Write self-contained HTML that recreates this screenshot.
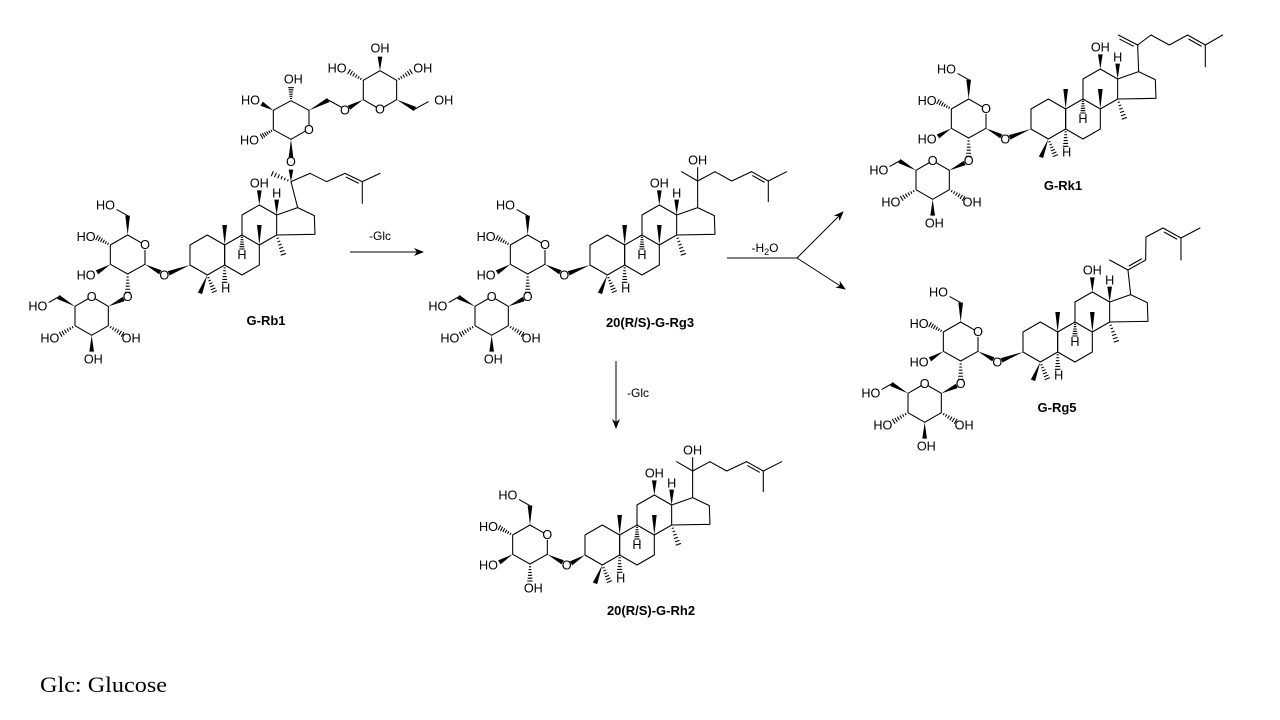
<!DOCTYPE html>
<html><head><meta charset="utf-8"><style>
html,body{margin:0;padding:0;background:#fff;}
svg{display:block;}
.m text{font-family:"Liberation Sans",Arial,sans-serif;font-size:38px;fill:#000;}
.lab{font-family:"Liberation Sans",Arial,sans-serif;font-size:13px;font-weight:bold;fill:#000;}
.arr{font-family:"Liberation Sans",Arial,sans-serif;font-size:12px;fill:#000;}
</style></head><body>
<svg id="s" width="1280" height="720" viewBox="0 0 1280 720" xmlns="http://www.w3.org/2000/svg">
<rect width="1280" height="720" fill="#fff"/>
<defs><marker id="ah" markerWidth="10" markerHeight="8" refX="9" refY="4" orient="auto" markerUnits="userSpaceOnUse"><path d="M0,0 L10,4 L0,8 L3,4 z" fill="#000"/></marker></defs>

<g stroke="#000" stroke-width="1" fill="none">
<line x1="350" y1="252" x2="423" y2="252" marker-end="url(#ah)"/>
<line x1="616" y1="361" x2="616" y2="428" marker-end="url(#ah)"/>
<line x1="727" y1="258" x2="797" y2="258"/>
<line x1="797" y1="258" x2="843" y2="212" marker-end="url(#ah)"/>
<line x1="797" y1="258" x2="845" y2="289" marker-end="url(#ah)"/>
</g>
<text class="arr" x="380" y="240" text-anchor="middle">-Glc</text>
<text class="arr" x="627" y="397">-Glc</text>
<text class="arr" x="765" y="252" text-anchor="middle">-H<tspan font-size="9" dy="3">2</tspan><tspan dy="-3">O</tspan></text>

<g class="m" id="rb1" transform="translate(75,165) scale(0.3333)">
<text x="553" y="68" text-anchor="middle">OH</text>
<text x="605" y="97" text-anchor="middle">H</text>
<text x="501" y="282" text-anchor="middle">H</text>
<text x="452" y="382" text-anchor="middle">H</text>
<text x="268" y="343" text-anchor="middle">O</text>
<text x="210" y="252" text-anchor="middle">O</text>
<text x="120" y="133" text-anchor="end">HO</text>
<text x="62" y="228" text-anchor="end">HO</text>
<text x="62" y="343" text-anchor="end">HO</text>
<text x="158" y="408" text-anchor="middle">O</text>
<text x="50" y="408" text-anchor="middle">O</text>
<text x="-83" y="437" text-anchor="end">HO</text>
<text x="-47" y="532" text-anchor="end">HO</text>
<text x="55" y="595" text-anchor="middle">OH</text>
<text x="140" y="532">OH</text>
<text x="648" y="3" text-anchor="middle">O</text>
<text x="702" y="-93" text-anchor="middle">O</text>
<text x="810" y="-152" text-anchor="middle">O</text>
<text x="915" y="-154" text-anchor="middle">O</text>
<text x="555" y="-182" text-anchor="end">HO</text>
<text x="552" y="-62" text-anchor="end">HO</text>
<text x="655" y="-245" text-anchor="middle">OH</text>
<text x="815" y="-278" text-anchor="end">HO</text>
<text x="915" y="-338" text-anchor="middle">OH</text>
<text x="1015" y="-278">OH</text>
<text x="1078" y="-182">OH</text>
</g>

<g class="m" id="rg3" transform="translate(475,165) scale(0.3333)">
<text x="553" y="68" text-anchor="middle">OH</text>
<text x="605" y="97" text-anchor="middle">H</text>
<text x="501" y="282" text-anchor="middle">H</text>
<text x="452" y="382" text-anchor="middle">H</text>
<text x="268" y="343" text-anchor="middle">O</text>
<text x="210" y="252" text-anchor="middle">O</text>
<text x="120" y="133" text-anchor="end">HO</text>
<text x="62" y="228" text-anchor="end">HO</text>
<text x="62" y="343" text-anchor="end">HO</text>
<text x="158" y="408" text-anchor="middle">O</text>
<text x="50" y="408" text-anchor="middle">O</text>
<text x="-83" y="437" text-anchor="end">HO</text>
<text x="-47" y="532" text-anchor="end">HO</text>
<text x="55" y="595" text-anchor="middle">OH</text>
<text x="140" y="532">OH</text>
<text x="668" y="-2" text-anchor="middle">OH</text>
</g>

<g class="m" id="rh2" transform="translate(470,455) scale(0.3333)">
<text x="553" y="68" text-anchor="middle">OH</text>
<text x="605" y="97" text-anchor="middle">H</text>
<text x="501" y="282" text-anchor="middle">H</text>
<text x="452" y="382" text-anchor="middle">H</text>
<text x="290" y="343" text-anchor="middle">O</text>
<text x="232" y="252" text-anchor="middle">O</text>
<text x="142" y="133" text-anchor="end">HO</text>
<text x="84" y="228" text-anchor="end">HO</text>
<text x="84" y="343" text-anchor="end">HO</text>
<text x="190" y="412" text-anchor="middle">OH</text>
<text x="668" y="-2" text-anchor="middle">OH</text>
</g>

<g class="m" id="rk1" transform="translate(916,29) scale(0.3333)">
<text x="553" y="68" text-anchor="middle">OH</text>
<text x="605" y="97" text-anchor="middle">H</text>
<text x="501" y="282" text-anchor="middle">H</text>
<text x="452" y="382" text-anchor="middle">H</text>
<text x="268" y="343" text-anchor="middle">O</text>
<text x="210" y="252" text-anchor="middle">O</text>
<text x="120" y="133" text-anchor="end">HO</text>
<text x="62" y="228" text-anchor="end">HO</text>
<text x="62" y="343" text-anchor="end">HO</text>
<text x="158" y="408" text-anchor="middle">O</text>
<text x="50" y="408" text-anchor="middle">O</text>
<text x="-83" y="437" text-anchor="end">HO</text>
<text x="-47" y="532" text-anchor="end">HO</text>
<text x="55" y="595" text-anchor="middle">OH</text>
<text x="140" y="532">OH</text>
</g>

<g class="m" id="rg5" transform="translate(908,252) scale(0.3333)">
<text x="553" y="68" text-anchor="middle">OH</text>
<text x="605" y="97" text-anchor="middle">H</text>
<text x="501" y="282" text-anchor="middle">H</text>
<text x="452" y="382" text-anchor="middle">H</text>
<text x="268" y="343" text-anchor="middle">O</text>
<text x="210" y="252" text-anchor="middle">O</text>
<text x="120" y="133" text-anchor="end">HO</text>
<text x="62" y="228" text-anchor="end">HO</text>
<text x="62" y="343" text-anchor="end">HO</text>
<text x="158" y="408" text-anchor="middle">O</text>
<text x="50" y="408" text-anchor="middle">O</text>
<text x="-83" y="437" text-anchor="end">HO</text>
<text x="-47" y="532" text-anchor="end">HO</text>
<text x="55" y="595" text-anchor="middle">OH</text>
<text x="140" y="532">OH</text>
</g>

<text class="lab" x="266" y="325" text-anchor="middle">G-Rb1</text>
<text class="lab" x="650" y="327" text-anchor="middle">20(R/S)-G-Rg3</text>
<text class="lab" x="651" y="615" text-anchor="middle">20(R/S)-G-Rh2</text>
<text class="lab" x="1063" y="190" text-anchor="middle">G-Rk1</text>
<text class="lab" x="1057" y="412" text-anchor="middle">G-Rg5</text>
<text x="40" y="692" font-family="'Liberation Serif','Times New Roman',serif" font-size="22" fill="#000" textLength="127" lengthAdjust="spacingAndGlyphs">Glc: Glucose</text>
</svg>
<script>
var NS="http://www.w3.org/2000/svg";
function el(g,t,a){var e=document.createElementNS(NS,t);for(var k in a)e.setAttribute(k,a[k]);g.insertBefore(e,g.firstChild);return e;}
function L(g,x1,y1,x2,y2){el(g,"line",{x1:x1,y1:y1,x2:x2,y2:y2,stroke:"#000","stroke-width":3.2,"stroke-linecap":"round"});}
function P(g,pts,close){el(g,close?"polygon":"polyline",{points:pts.map(function(p){return p.join(",")}).join(" "),fill:"none",stroke:"#000","stroke-width":3.2,"stroke-linejoin":"round"});}
function W(g,x1,y1,x2,y2){var dx=x2-x1,dy=y2-y1,l=Math.hypot(dx,dy),nx=-dy/l*7,ny=dx/l*7;
 el(g,"polygon",{points:x1+","+y1+" "+(x2+nx)+","+(y2+ny)+" "+(x2-nx)+","+(y2-ny),fill:"#000"});}
function H(g,x1,y1,x2,y2){var dx=x2-x1,dy=y2-y1,l=Math.hypot(dx,dy),n=6;for(var i=1;i<=n;i++){var t=i/n,w=1+6*t,cx=x1+dx*t,cy=y1+dy*t,nx=-dy/l*w,ny=dx/l*w;L(g,cx+nx,cy+ny,cx-nx,cy-ny);}}
function D(g,x1,y1,x2,y2,s){L(g,x1,y1,x2,y2);var dx=x2-x1,dy=y2-y1,l=Math.hypot(dx,dy),nx=-dy/l*9*s,ny=dx/l*9*s;
 L(g,x1+dx*.15+nx,y1+dy*.15+ny,x2-dx*.15+nx,y2-dy*.15+ny);}
function ster(g){
 P(g,[[397,210],[449,240],[449,300],[397,330],[345,300],[345,240]],1);
 P(g,[[449,240],[501,210],[553,240],[553,300],[501,330],[449,300]],1);
 P(g,[[501,210],[501,150],[553,120],[605,150],[605,210],[553,240]],0);
 P(g,[[605,150],[668,128],[718,152],[720,208],[605,210]],0);
 W(g,449,240,449,180);W(g,553,240,553,180);H(g,605,210,625,268);
 W(g,397,330,375,385);H(g,397,330,418,380);H(g,449,300,449,352);H(g,501,210,501,252);
 W(g,605,150,605,104);W(g,553,120,553,76);
}
function glc1(g,d,o2){
 L(g,180+d,210,220+d,233);L(g,232+d,256,232+d,298);
 P(g,[[232+d,298],[180+d,327],[128+d,298],[128+d,240],[180+d,210]],0);
 W(g,232+d,298,278+d,322);W(g,345,300,303+d,325);
 W(g,180+d,210,180+d,152);L(g,180+d,152,148+d,134);
 H(g,128+d,240,88+d,218);W(g,128+d,298,88+d,322);
 H(g,180+d,327,180+d,(o2?382:378));
 if(o2){var cx=72+d;
  L(g,cx+50,424,cx+12,402);L(g,cx-12,402,cx-50,424);
  P(g,[[cx-50,424],[cx-50,482],[cx,511],[cx+50,482],[cx+50,424]],0);
  W(g,cx+50,424,168+d,402);
  W(g,cx-50,424,cx-100,396);L(g,cx-100,396,cx-128,412);
  H(g,cx-50,482,cx-93,508);W(g,cx,511,cx,560);H(g,cx+50,482,cx+93,508);
 }
}
function chainOH(g){L(g,668,128,668,48);L(g,668,48,620,20);L(g,668,48,668,8);L(g,668,48,720,20);L(g,720,20,770,48);L(g,770,48,830,20);D(g,830,20,880,48,1);L(g,880,48,935,20);L(g,880,48,880,110);}
var rb1=document.getElementById("rb1"),rg3=document.getElementById("rg3"),rh2=document.getElementById("rh2"),rk1=document.getElementById("rk1"),rg5=document.getElementById("rg5");
[rb1,rg3,rh2,rk1,rg5].forEach(function(g){ster(g);});
glc1(rb1,-22,1);glc1(rg3,-22,1);glc1(rh2,0,0);glc1(rk1,-22,1);glc1(rg5,-22,1);
chainOH(rg3);chainOH(rh2);
(function(g){L(g,668,128,648,50);H(g,648,50,592,26);L(g,648,50,705,25);L(g,705,25,755,50);L(g,755,50,810,25);D(g,810,25,862,50,1);L(g,862,50,915,25);L(g,862,50,862,115);
 W(g,648,50,648,14);W(g,648,-77,648,-22);
 L(g,648,-77,690,-101);L(g,702,-118,702,-164);P(g,[[702,-164],[648,-193],[595,-164],[595,-106],[648,-77]],0);
 W(g,595,-164,560,-184);H(g,648,-193,648,-232);H(g,595,-106,560,-86);
 W(g,702,-164,760,-195);L(g,760,-195,798,-174);
 W(g,865,-196,822,-172);
 L(g,865,-196,903,-174);L(g,927,-174,965,-196);P(g,[[965,-196],[965,-254],[915,-283],[865,-254],[865,-196]],0);
 H(g,865,-254,822,-280);W(g,915,-283,915,-325);H(g,965,-254,1008,-280);W(g,965,-196,1020,-168);L(g,1020,-168,1060,-190);
})(rb1);
(function(g){L(g,668,128,665,48);D(g,665,48,607,18,-1);L(g,665,48,705,18);L(g,705,18,760,48);L(g,760,48,815,18);D(g,815,18,868,48,1);L(g,868,48,920,18);L(g,868,48,868,113);})(rk1);
(function(g){L(g,668,128,660,54);L(g,660,54,605,24);D(g,660,54,713,24,-1);L(g,713,24,714,-45);L(g,714,-45,765,-72);D(g,765,-72,819,-42,1);L(g,819,-42,876,-72);L(g,819,-42,819,24);})(rg5);
</script>
</body></html>
